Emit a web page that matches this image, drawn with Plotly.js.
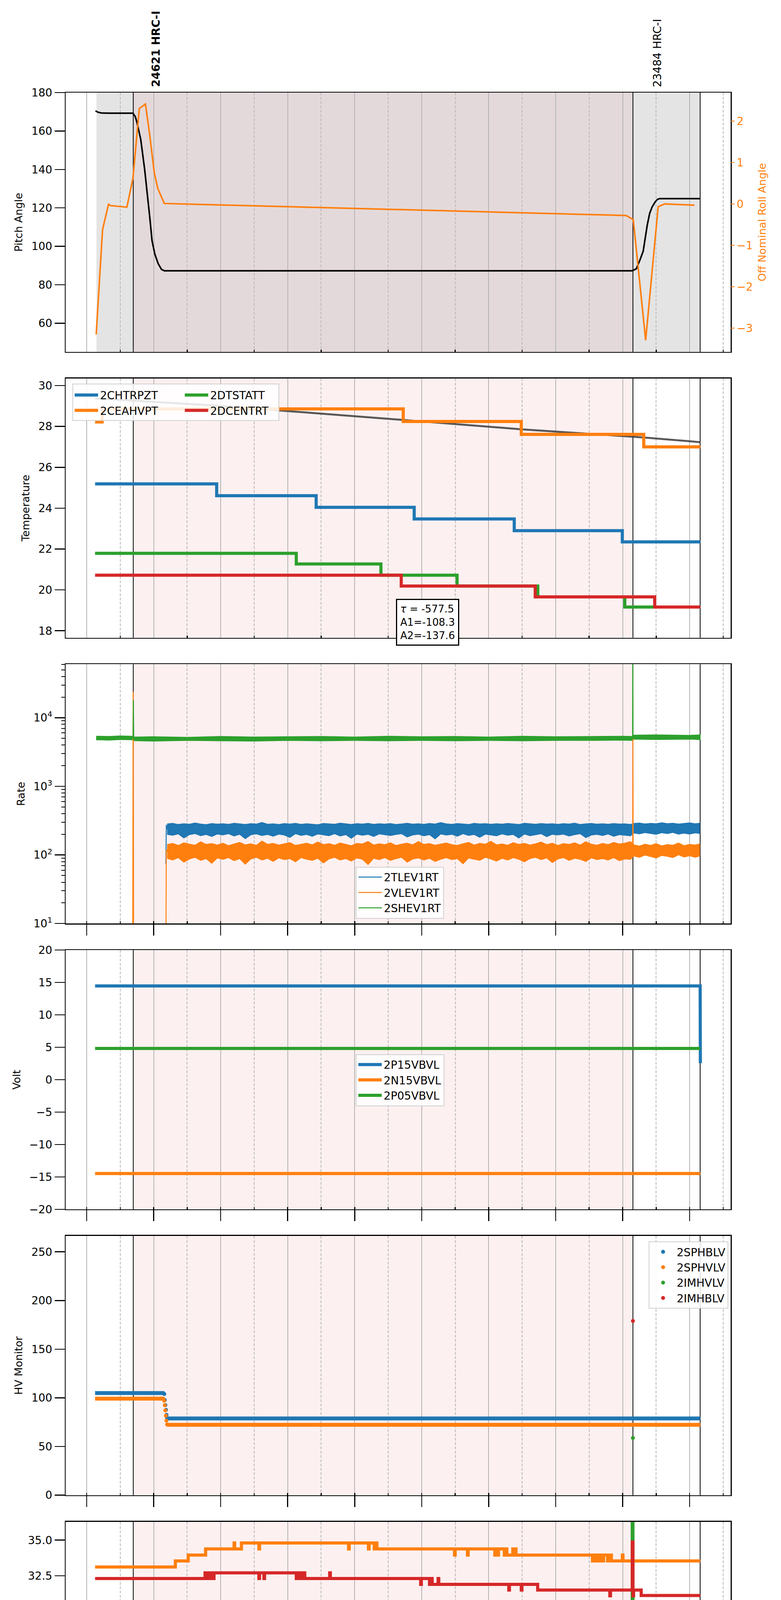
<!DOCTYPE html>
<html>
<head>
<meta charset="utf-8">
<script src="https://cdn.plot.ly/plotly-3.0.1.min.js"></script>
<style>body{margin:0;background:#fff}#chart{width:2000px;height:5400px}</style>
</head>
<body>
<div id="chart"></div>
<script>
// times are 'HH:MM' or 'HH:MM.m' on 2021-01-24
const day = '2021-01-24';
const obsStart = '05:41.7', obsEnd = '13:09.2', dataEnd = '14:09.4', dataStart = '05:08.7';

// panel 1: pitch / roll
const pitchT = ['05:07.9','05:10','05:13','05:20','05:41.4','05:43.5','05:45','05:48.4','05:51.9','05:54.2','05:56.5','05:58.5','06:01','06:04','06:07','06:09.5','13:08.5','13:12.2','13:15.3','13:18.4','13:20','13:22','13:24.2','13:26.4','13:29','13:31','13:33','14:09.2'];
const pitchV = [170.5,169.8,169.4,169.3,169.3,167.5,164.5,155.6,140.0,128.0,115.0,103.0,96.0,91.0,88.0,87.3,87.3,88.3,92.6,97.5,104.0,111.0,117.2,120.5,123.0,124.4,124.8,124.8];
const rollT = ['05:08.5','05:14.2','05:19.6','05:21','05:36','05:38.5','05:41.4','05:47.1','05:52.6','05:56.2','06:00.6','06:03.7','06:09.5','13:03.2','13:09.5','13:20.6','13:31.8','13:37.6','14:04.3'];
const rollV = [-3.15,-0.62,0.0,-0.04,-0.08,0.23,0.62,2.30,2.41,1.71,0.74,0.37,0.01,-0.28,-0.38,-3.29,-0.07,0.0,-0.03];

// panel 2: temperature
const modelT = ['05:07.5','06:56','09:43','11:29','13:19','14:09.5'];
const modelV = [29.37,29.02,28.32,27.86,27.46,27.23];
const chtrpztT = ['05:07.5','06:56.4','08:25.5','09:53.3','11:22.9','12:59.7','14:09.5'];
const chtrpztV = [25.19,24.61,24.04,23.47,22.90,22.35,22.35];
const ceahvptT = ['05:07.5','05:13.8','09:43.5','11:29.2','13:18.9','14:09.5'];
const ceahvptV = [28.22,28.86,28.24,27.61,27.00,27.00];
const dtstattT = ['05:07.5','08:07.7','09:23.5','10:31.7','11:44.0','13:01.9','14:09.5'];
const dtstattV = [21.79,21.27,20.72,20.19,19.66,19.16,19.16];
const dcentrtT = ['05:07.5','09:41.7','11:41.7','13:28.7','14:09.5'];
const dcentrtV = [20.72,20.19,19.66,19.16,19.16];

// panel 3: rates (noisy bands: upper / lower edges, every 5 min)
const bandT = ['06:12','06:17','06:22','06:27','06:32','06:37','06:42','06:47','06:52','06:57',
  '07:02','07:07','07:12','07:17','07:22','07:27','07:32','07:37','07:42','07:47',
  '07:52','07:57','08:02','08:07','08:12','08:17','08:22','08:27','08:32','08:37',
  '08:42','08:47','08:52','08:57','09:02','09:07','09:12','09:17','09:22','09:27',
  '09:32','09:37','09:42','09:47','09:52','09:57','10:02','10:07','10:12','10:17',
  '10:22','10:27','10:32','10:37','10:42','10:47','10:52','10:57','11:02','11:07',
  '11:12','11:17','11:22','11:27','11:32','11:37','11:42','11:47','11:52','11:57',
  '12:02','12:07','12:12','12:17','12:22','12:27','12:32','12:37','12:42','12:47',
  '12:52','12:57','13:02','13:07','13:10','13:15','13:20','13:25','13:30','13:35',
  '13:40','13:45','13:50','13:55','14:00','14:05','14:09'];
const tlevHi = [284,290,279,286,281,293,283,278,288,282, 286,280,291,284,279,287,283,298,281,285,
  279,288,283,290,280,286,282,277,289,284, 281,292,285,279,287,283,290,280,286,282,
  288,279,284,291,282,286,280,289,283,297, 285,280,288,283,279,290,284,287,281,286,
  282,289,284,279,291,285,281,288,283,286, 280,287,283,292,279,285,289,282,286,281,
  288,283,285,279,289,293,284,290,286,295, 287,291,283,289,294,286,290];
const tlevLo = [199,193,202,176,197,204,190,198,185,201, 195,203,188,199,172,196,202,191,198,187,
  200,194,179,203,192,198,186,201,195,190, 203,188,197,174,200,193,199,185,202,196,
  191,198,203,182,195,200,189,197,171,201, 194,199,187,203,192,198,180,200,195,189,
  202,193,198,176,201,190,196,203,184,199, 195,200,188,197,203,178,194,199,191,201,
  186,197,193,189,208,202,211,205,199,210, 204,212,200,207,201,209,205];
const vlevHi = [142,148,138,151,144,139,156,143,147,140, 149,137,145,153,141,146,139,160,143,148,
  140,146,152,138,144,149,141,155,142,147, 139,150,143,137,148,145,158,140,146,142,
  151,138,144,149,141,157,143,147,139,145, 150,142,138,146,153,140,148,144,159,141,
  145,139,152,143,148,140,146,155,142,149, 138,147,143,151,140,156,144,139,148,142,
  153,145,149,157,141,135,144,138,147,136, 142,139,150,137,143,140,145];
const vlevLo = [89,84,91,78,87,92,83,88,75,90, 86,91,82,88,73,87,92,84,89,80,
  90,85,88,79,91,86,83,89,76,87, 92,84,88,81,90,86,72,89,85,91,
  83,88,92,78,87,90,84,89,80,86, 91,85,88,74,90,86,83,92,87,81,
  89,84,91,86,79,88,92,85,90,77, 87,91,83,89,86,80,90,85,88,84,
  91,82,87,86,96,92,99,94,90,98, 95,91,100,93,97,92,96];
const shevBandT = ['05:08.5','05:20','05:30','05:41','05:43','06:00','06:30','07:00','07:30','08:00','08:30','09:00','09:30','10:00','10:30','11:00','11:30','12:00','12:30','13:00','13:08.5','13:10','13:30','14:00','14:09.5'];
const shevHi = [5400,5350,5450,5400,5250,5300,5200,5350,5250,5300,5350,5250,5400,5300,5350,5250,5400,5300,5350,5400,5350,5600,5650,5550,5650];
const shevLo = [4750,4700,4800,4750,4600,4550,4650,4600,4550,4650,4600,4650,4600,4650,4600,4650,4600,4650,4650,4700,4650,4850,4800,4850,4800];
const tlevT = ['06:10.9','06:11.3','06:12','14:09'];
const tlevV = [74,275,240,245];
const vlevT = ['05:41.2','05:41.6','05:42.0','06:10.9','06:11.3','06:12','13:09.0','13:09.2','13:09.4','14:09'];
const vlevV = [3,24000,3,3,120,115,120,5000,120,115];
const shevT = ['05:08.5','05:41.5','05:41.8','05:42.1','13:08.9','13:09.1','13:09.3','14:09.5'];
const shevV = [5000,4950,18000,4900,4950,90000,5200,5150];

// panel 4: voltages
const p15T = ['05:07.5','14:09.4','14:09.6'];
const p15V = [14.46,14.46,2.55];
const n15T = ['05:07.5','14:09.5'];
const n15V = [-14.48,-14.48];
const p05T = ['05:07.5','14:09.5'];
const p05V = [4.82,4.82];

// panel 5: HV monitor (dense runs + individual samples)
const sphblvRunT = ['05:07.5','06:08.6',null,'06:12.0','14:09.5'];
const sphblvRunV = [104.9,104.9,null,78.8,78.8];
const sphblvT = ['06:08.6','06:09.5','06:10.0','06:10.5','06:11.0','06:11.5','06:12.0'];
const sphblvV = [104.9,103.9,97.7,92.6,87.7,82.5,79.5];
const sphvlvRunT = ['05:07.5','06:08.6',null,'06:12.0','14:09.5'];
const sphvlvRunV = [99.2,99.2,null,72.3,72.3];
const sphvlvT = ['06:08.6','06:09.4','06:09.9','06:10.4','06:10.9','06:11.4','06:12.0'];
const sphvlvV = [99.2,97.0,92.4,87.1,81.6,76.5,72.6];
const imhvlvT = ['13:09.2'], imhvlvV = [58.8];
const imhblvT = ['13:09.2'], imhblvV = [179];

// panel 6: detector temps
const spinatmT = ['05:07.5','07:36.5','07:38','07:39.5','07:41','07:43','07:45','07:47','07:49','07:52.1','07:56.5','07:57.1','08:14.0','08:14.6','08:16','08:16.6','09:08.8','09:10','09:12','09:14','09:16','09:18','09:20','09:22','09:25.7','13:05.0','14:09.5'];
const spinatmV = [19.64,20.23,19.64,20.23,19.64,20.23,19.64,20.23,19.64,20.23,19.64,20.23,19.64,20.23,19.64,20.23,19.64,20.23,19.64,20.23,19.64,20.23,19.64,20.23,19.64,18.94,18.94];
const sphvatmT = ['05:07.5','06:19.4','06:30.9','06:46.5','07:12.0','07:12.5','07:18.6','07:34.2','07:34.8','08:54.5','08:55.1','09:12.3','09:12.9','09:17.5','09:18.2','09:19.9','10:29.4','10:30.0','10:41.0','10:41.6','11:05.5','11:06.3','11:08','11:08.8','11:14','11:14.8','11:16.3','11:21.6','11:22.2','11:23.9','11:24.5','12:33','12:33.7','12:35.5','12:36.3','12:38.5','12:39.3','12:42','12:43','12:46.5','12:47.3','12:49.9','12:59.7','13:00.3','13:08.6','13:09.2','14:09.5'];
const sphvatmV = [33.12,33.54,33.95,34.38,34.80,34.38,34.80,34.38,34.80,34.38,34.80,34.38,34.80,34.38,34.80,34.38,33.95,34.38,33.95,34.38,33.95,34.38,33.95,34.38,33.95,34.38,33.95,34.38,33.95,34.38,33.95,33.54,33.95,33.54,33.95,33.54,33.95,33.54,33.95,33.54,33.95,33.54,33.95,33.54,15.0,33.54,33.54];
const iminatmT = ['05:07.5','06:16.2','06:16.8','06:22.9','06:24','06:25.5','06:27','06:29','06:31','06:33','06:35','06:38.5','06:55.0','06:55.6','07:07.1','07:07.7','07:15.5','07:16.5','07:18','07:20','07:22','07:24','07:26','07:27','07:28.9','10:10.3','12:12.9','13:08.6','13:09.2','14:09.5'];
const iminatmV = [21.00,21.74,21.00,21.74,21.00,21.74,21.00,21.74,21.00,21.74,21.00,21.74,21.00,21.74,21.00,21.74,21.00,21.74,21.00,21.74,21.00,21.74,21.00,21.74,21.00,20.32,19.63,40.0,19.63,19.63];
const imhvatmT = ['05:07.5','06:46','06:47','06:48','06:50','06:50.8','06:53','06:54','07:34.2','07:34.8','07:38.7','07:39.3','08:07.7','08:08.5','08:10','08:11','08:13','08:14','08:15.3','08:37.6','08:38.2','09:59.1','09:59.7','10:07','10:07.8','10:09.4','10:14.7','10:15.3','11:18.0','11:18.6','11:29.2','11:29.8','11:43.9','12:48.5','12:49.1','13:08.6','13:09.2','13:09.8','13:16.6','14:09.5'];
const imhvatmV = [32.31,32.71,32.31,32.71,32.31,32.71,32.31,32.71,32.31,32.71,32.31,32.71,32.31,32.71,32.31,32.71,32.31,32.71,32.31,32.71,32.31,31.90,32.31,31.90,32.31,31.90,32.31,31.90,31.50,31.90,31.50,31.90,31.50,31.10,31.50,34.87,31.10,31.50,31.12,31.12];

// panel 7: FEA temps
const fhtrmztT = ['05:07.5','06:52.9','07:06.6','07:49.9','08:35.8','09:24.4','10:15.6','11:12.7','12:15.1','13:46.5','13:47.1','14:09.5'];
const fhtrmztV = [25.19,24.62,24.05,23.47,22.91,22.38,21.83,21.28,20.74,20.20,20.74,20.74];
const fradpytT = ['05:07.5','06:03.7','06:17.1','06:36.3','07:04.4','07:40.0','08:21.1','09:04.3','09:51.5','10:42.4','11:41.7','12:48.5','13:27.3','14:09.5'];
const fradpytV = [20.74,20.23,19.69,19.16,18.67,18.18,17.67,17.17,16.68,16.19,15.73,15.26,15.73,15.73];
const fepratmT = ['05:07.5','07:27.6','08:35.8','09:50.7','11:12.7','12:50.8','13:08.6','13:09.2','14:09.5'];
const fepratmV = [26.17,25.39,24.63,23.88,23.13,22.40,28.0,22.40,22.40];
const fe00atmT = ['05:07.5','06:31.8','06:32.4','06:34.0','06:44.3','06:44.9','06:45.5','07:00.8','07:01.4','07:06.6','07:07.2','07:08.4','07:15.5','07:16.1','07:38.7','08:04.6','08:05.2','08:12.1','08:16.2','08:16.8','08:30.0','08:30.6','08:33.1','08:33.7','08:46.9','09:06.5','09:07.1','09:08.3','09:08.9','09:23.5','09:34.6','09:35.2','09:44.4','09:45.0','09:51.5','09:52.1','09:54.7','09:55.3','10:02.3','10:40.6','10:57.0','10:57.6','11:19.4','11:20.0','11:21.6','11:26.5','11:27.1','11:47.5','11:48.1','11:55.0','11:55.6','11:58.2','11:58.8','12:04.0','12:04.6','12:08.4','12:17.3','12:17.9','12:39.6','12:40.2','12:50.8','12:51.4','12:59.7','13:06.4','13:07.0','13:08.6','13:09.2','13:46.5','13:47.1','14:09.5'];
const fe00atmV = [24.28,24.65,24.28,23.96,22.95,24.30,23.96,23.30,23.96,23.30,23.96,23.62,23.30,23.62,23.30,24.30,23.30,22.98,24.00,22.98,22.00,22.98,23.65,22.98,22.67,23.00,22.67,21.70,22.67,22.35,22.70,22.35,21.95,22.35,21.70,22.35,21.70,22.35,22.03,21.72,21.40,21.72,22.35,21.72,21.42,22.05,21.42,21.75,21.42,22.35,21.42,21.75,21.42,21.05,21.42,21.10,22.05,21.10,22.35,21.10,21.45,21.10,20.81,21.45,20.81,23.65,20.81,20.40,20.81,20.81];

// axis tick labels
const halfHours = ['05:30','06:30','07:30','08:30','09:30','10:30','11:30','12:30','13:30','14:30'];
const rateTicks = [10,100,1000,10000];
const rateTickText = ['10<sup>1</sup>','10<sup>2</sup>','10<sup>3</sup>','10<sup>4</sup>'];
const rateMinor = [20,30,40,50,60,70,80,90,200,300,400,500,600,700,800,900,2000,3000,4000,5000,6000,7000,8000,9000,20000,30000,40000,50000,60000];

const C = {blue:'#1f77b4', orange:'#ff7f0e', green:'#2ca02c', red:'#d62728'};

function T(s) {
  if (s === null) return null;
  const p = s.split(':');
  const m = parseFloat(p[1]);
  const mi = Math.floor(m), se = Math.round((m - mi) * 60);
  return day + ' ' + p[0] + ':' + String(mi).padStart(2, '0') + ':' + String(se).padStart(2, '0');
}
const Ts = a => a.map(T);

function line(name, t, v, color, n, opts) {
  const ax = n === 1 ? '' : String(n);
  return Object.assign({
    type: 'scatter', mode: 'lines', name, x: Ts(t), y: v,
    line: {color, width: 8, shape: 'hv'},
    xaxis: 'x' + ax, yaxis: 'y' + ax, hoverinfo: 'skip'
  }, opts || {});
}
function band(t, hi, lo, color, n) {
  const x = Ts(t).concat(Ts(t).reverse());
  const y = hi.concat(lo.slice().reverse());
  return {type: 'scatter', mode: 'lines', x, y, fill: 'toself', fillcolor: color,
    line: {color, width: 1.5}, showlegend: false, xaxis: 'x' + n, yaxis: 'y' + n, hoverinfo: 'skip'};
}

const data = [
  line('Pitch', pitchT, pitchV, 'black', 1, {line: {color: 'black', width: 4}, showlegend: false}),
  Object.assign(line('Roll', rollT, rollV, C.orange, 1, {line: {color: C.orange, width: 4}, showlegend: false}), {yaxis: 'y8'}),

  line('model', modelT, modelV, 'rgba(60,60,60,0.85)', 2, {line: {color: 'rgba(60,60,60,0.85)', width: 5}, showlegend: false}),
  line('2CHTRPZT', chtrpztT, chtrpztV, C.blue, 2, {legend: 'legend'}),
  line('2CEAHVPT', ceahvptT, ceahvptV, C.orange, 2, {legend: 'legend'}),
  line('2DTSTATT', dtstattT, dtstattV, C.green, 2, {legend: 'legend2'}),
  line('2DCENTRT', dcentrtT, dcentrtV, C.red, 2, {legend: 'legend2'}),

  band(bandT, tlevHi, tlevLo, C.blue, 3),
  band(bandT, vlevHi, vlevLo, C.orange, 3),
  band(shevBandT, shevHi, shevLo, C.green, 3),
  line('2TLEV1RT', tlevT, tlevV, C.blue, 3, {line: {color: C.blue, width: 2.5}, legend: 'legend3'}),
  line('2VLEV1RT', vlevT, vlevV, C.orange, 3, {line: {color: C.orange, width: 2.5}, legend: 'legend3'}),
  line('2SHEV1RT', shevT, shevV, C.green, 3, {line: {color: C.green, width: 2.5}, legend: 'legend3'}),

  line('2P15VBVL', p15T, p15V, C.blue, 4, {line: {color: C.blue, width: 8}, legend: 'legend4'}),
  line('2N15VBVL', n15T, n15V, C.orange, 4, {line: {color: C.orange, width: 8}, legend: 'legend4'}),
  line('2P05VBVL', p05T, p05V, C.green, 4, {line: {color: C.green, width: 8}, legend: 'legend4'}),

  line('run', sphblvRunT, sphblvRunV, C.blue, 5, {line: {color: C.blue, width: 10}, showlegend: false}),
  line('run', sphvlvRunT, sphvlvRunV, C.orange, 5, {line: {color: C.orange, width: 10}, showlegend: false}),
  line('2SPHBLV', sphblvT, sphblvV, C.blue, 5, {mode: 'markers', marker: {color: C.blue, size: 10}, legend: 'legend5'}),
  line('2SPHVLV', sphvlvT, sphvlvV, C.orange, 5, {mode: 'markers', marker: {color: C.orange, size: 10}, legend: 'legend5'}),
  line('2IMHVLV', imhvlvT, imhvlvV, C.green, 5, {mode: 'markers', marker: {color: C.green, size: 10}, legend: 'legend5'}),
  line('2IMHBLV', imhblvT, imhblvV, C.red, 5, {mode: 'markers', marker: {color: C.red, size: 10}, legend: 'legend5'}),

  line('2SPINATM', spinatmT, spinatmV, C.blue, 6, {legend: 'legend6'}),
  line('2SPHVATM', sphvatmT, sphvatmV, C.orange, 6, {legend: 'legend6'}),
  line('2IMINATM', iminatmT, iminatmV, C.green, 6, {legend: 'legend6'}),
  line('2IMHVATM', imhvatmT, imhvatmV, C.red, 6, {legend: 'legend6'}),

  line('2FHTRMZT', fhtrmztT, fhtrmztV, C.blue, 7, {legend: 'legend7'}),
  line('2FRADPYT', fradpytT, fradpytV, C.orange, 7, {legend: 'legend7'}),
  line('2FEPRATM', fepratmT, fepratmV, C.green, 7, {legend: 'legend7'}),
  line('2FE00ATM', fe00atmT, fe00atmV, C.red, 7, {legend: 'legend7'})
];

// ---- layout ----
const H = 0.13134, S = 0.14478;
const dom = i => [Math.max(0, 1 - i * S - H), 1 - i * S];

const layout = {
  width: 2000, height: 5400,
  margin: {l: 168, r: 129, t: 237, b: 109},
  paper_bgcolor: 'white', plot_bgcolor: 'white',
  font: {family: 'DejaVu Sans', size: 28, color: 'black'},
  showlegend: true,
  shapes: [], annotations: []
};

for (let i = 1; i <= 7; i++) {
  const ax = i === 1 ? '' : String(i);
  const x = {
    type: 'date', range: [T('04:41.1'), T('14:36.7')], anchor: 'y' + ax,
    showline: true, mirror: true, linecolor: 'black', linewidth: 2.5,
    ticks: i <= 2 ? '' : 'outside', ticklen: 28, tickwidth: 2.5, tickcolor: 'black',
    tickmode: 'linear', tick0: T('05:00'), dtick: 3600000, tickformat: '%Hh',
    showticklabels: i === 7, tickfont: {size: 28},
    showgrid: true, gridcolor: '#b3b3b3', gridwidth: 2, zeroline: false,
    minor: {ticks: 'inside', ticklen: 6, tickwidth: 2.5, tickcolor: 'black',
      tick0: T('04:30'), dtick: 1800000, showgrid: true, gridcolor: '#b8b8b8', gridwidth: 2, griddash: '7px,4px'}
  };
  if (i > 1) x.matches = 'x';
  if (i === 7) x.title = {text: '2021-01-24 (024)', font: {size: 33}, standoff: 8};
  layout['xaxis' + ax] = x;

  layout['yaxis' + ax] = {
    domain: dom(i - 1), anchor: 'x' + ax,
    showline: true, mirror: true, linecolor: 'black', linewidth: 2.5,
    ticks: 'outside', ticklen: 26, tickwidth: 2.5, tickcolor: 'black',
    tickfont: {size: 28}, showgrid: false, zeroline: false
  };

  const xr = 'x' + ax, yr = 'y' + ax + ' domain';
  if (i === 1) {
    layout.shapes.push({type: 'rect', xref: xr, yref: yr, x0: T(dataStart), x1: T(dataEnd), y0: 0, y1: 1,
      fillcolor: '#e4e4e4', line: {width: 0}, layer: 'below'});
    layout.shapes.push({type: 'rect', xref: xr, yref: yr, x0: T(obsStart), x1: T(obsEnd), y0: 0, y1: 1,
      fillcolor: '#e4d9da', line: {width: 0}, layer: 'below'});
  } else {
    layout.shapes.push({type: 'rect', xref: xr, yref: yr, x0: T(obsStart), x1: T(obsEnd), y0: 0, y1: 1,
      fillcolor: '#fdf0f0', line: {width: 0}, layer: 'below'});
  }
  [obsStart, obsEnd, dataEnd].forEach(t => layout.shapes.push({
    type: 'line', xref: xr, yref: yr, x0: T(t), x1: T(t), y0: 0, y1: 1,
    line: {color: 'black', width: 2}, layer: 'below'}));
}

const ttl = s => ({text: s, font: {size: 27}, standoff: 15});
Object.assign(layout.yaxis, {range: [45.1, 180], dtick: 20, title: ttl('Pitch Angle')});
layout.yaxis8 = {overlaying: 'y', side: 'right', anchor: 'x', range: [-3.571, 2.686], dtick: 1,
  showline: false, showgrid: false, zeroline: false, ticks: 'outside', ticklen: 9, tickwidth: 2.5,
  tickcolor: C.orange, tickfont: {size: 28, color: C.orange},
  title: {text: 'Off Nominal Roll Angle', font: {size: 27, color: C.orange}, standoff: 15}};
Object.assign(layout.yaxis2, {range: [17.66, 30.35], dtick: 2, title: ttl('Temperature')});
Object.assign(layout.yaxis3, {type: 'log', range: [1, 4.78], tickmode: 'array', tickvals: rateTicks, ticktext: rateTickText,
  minor: {tickmode: 'array', tickvals: rateMinor, ticks: 'outside', ticklen: 9, tickwidth: 2, tickcolor: 'black', showgrid: false},
  title: ttl('Rate')});
Object.assign(layout.yaxis4, {range: [-20, 20], dtick: 5, title: ttl('Volt')});
Object.assign(layout.yaxis5, {range: [0, 266.4], dtick: 50, title: ttl('HV Monitor')});
Object.assign(layout.yaxis6, {range: [18.12, 36.29], dtick: 2.5, tick0: 0, tickformat: '.1f', title: ttl('Detector Temp')});
Object.assign(layout.yaxis7, {range: [14.22, 26.9], dtick: 2, title: ttl('FEA Temp')});

// legends
const lg = o => Object.assign({font: {size: 28}, itemwidth: 60, bgcolor: 'rgba(255,255,255,0.85)',
  bordercolor: '#d0d0d0', borderwidth: 2}, o);
layout.legend = lg({x: 0.0107, y: 0.8517, xanchor: 'left', yanchor: 'top', bgcolor: 'rgba(0,0,0,0)', borderwidth: 0});
layout.legend2 = lg({x: 0.1763, y: 0.8517, xanchor: 'left', yanchor: 'top', bgcolor: 'rgba(0,0,0,0)', borderwidth: 0});
layout.legend3 = lg({x: 0.5027, y: 0.5816, xanchor: 'center', yanchor: 'bottom'});
layout.legend4 = lg({x: 0.5027, y: 0.4998, xanchor: 'center', yanchor: 'middle'});
layout.legend5 = lg({x: 0.9965, y: 0.4181, xanchor: 'right', yanchor: 'top'});
layout.legend6 = lg({x: 0.5027, y: 0.2101, xanchor: 'center', yanchor: 'middle'});
layout.legend7 = lg({x: 0.009, y: 0.0021, xanchor: 'left', yanchor: 'bottom'});
layout.shapes.push({type: 'rect', xref: 'paper', yref: 'paper', x0: 0.01074, x1: 0.3207, y0: 0.8339, y1: 0.8524,
  fillcolor: 'rgba(255,255,255,0.85)', line: {color: '#d0d0d0', width: 2}, layer: 'above'});

// annotations
layout.annotations.push(
  {text: '<b>24621 HRC-I</b>', xref: 'x', x: T(obsStart), yref: 'paper', y: 1, xanchor: 'center', yanchor: 'bottom',
    textangle: -90, xshift: 58, yshift: 12, showarrow: false, font: {size: 28}},
  {text: '23484 HRC-I', xref: 'x', x: T(obsEnd), yref: 'paper', y: 1, xanchor: 'center', yanchor: 'bottom',
    textangle: -90, xshift: 63, yshift: 12, showarrow: false, font: {size: 28}},
  {text: '<i>τ</i> = -577.5<br>A1=-108.3<br>A2=-137.6', xref: 'x2', x: T('10:05.3'), yref: 'y2 domain', y: 0.06,
    xanchor: 'center', yanchor: 'middle', align: 'left', showarrow: false, font: {size: 26},
    bgcolor: 'white', bordercolor: 'black', borderwidth: 3, borderpad: 8}
);
halfHours.forEach(h => layout.annotations.push({text: '30', xref: 'x7', x: T(h), yref: 'paper', y: 0,
  yanchor: 'top', yshift: -3, showarrow: false, font: {size: 20}}));

Plotly.newPlot('chart', data, layout, {staticPlot: true});
</script>
</body>
</html>
